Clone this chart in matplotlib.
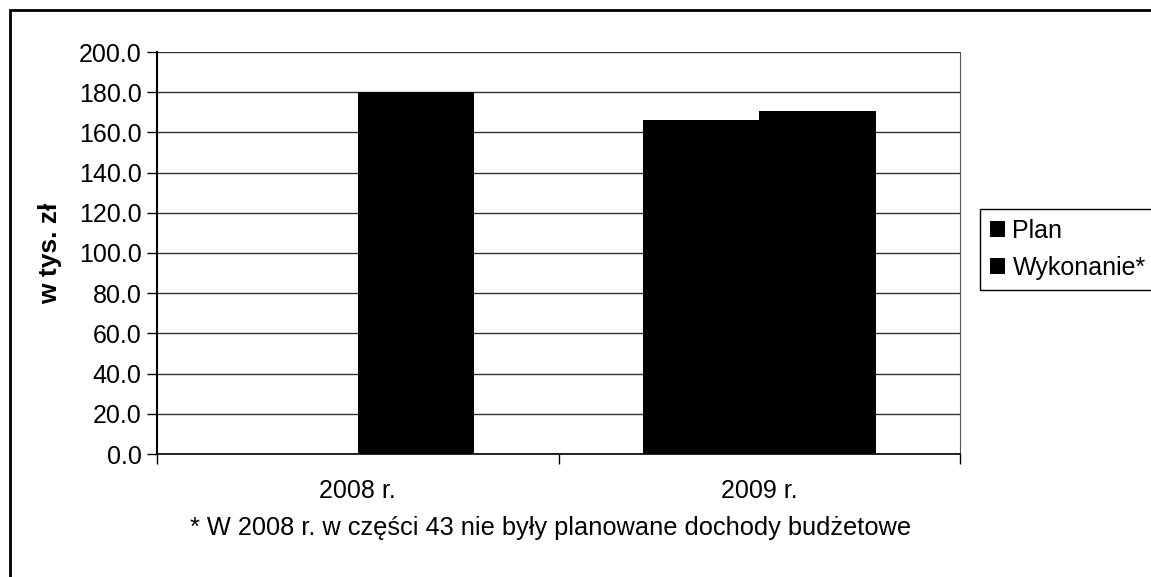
import numpy as np
import matplotlib.pyplot as plt
from matplotlib.patches import Rectangle
from matplotlib.ticker import FormatStrFormatter

plt.rcParams['font.family'] = ['Liberation Sans', 'DejaVu Sans']

# data (w tys. zl)
years = ['2008 r.', '2009 r.']
plan = [0.0, 166.3]
wykonanie = [180.0, 170.7]
series_names = ['Plan', 'Wykonanie*']
yticks = np.arange(0, 201, 20)

fig = plt.figure(figsize=(11.51, 5.77), dpi=100)
ax = fig.add_axes([157 / 1151, 1 - 454 / 577, (960 - 157) / 1151, (454 - 52) / 577])

x = np.arange(len(years))
w = 0.29
ax.bar(x - w / 2, plan, width=w, color='black', label=series_names[0], zorder=3)
ax.bar(x + w / 2, wykonanie, width=w, color='black', label=series_names[1], zorder=3)

ax.set_xlim(-0.5, 1.5)
ax.set_ylim(0, 200)
ax.set_yticks(yticks)
ax.yaxis.set_major_formatter(FormatStrFormatter('%.1f'))
ax.grid(axis='y', color='#333333', linewidth=1, zorder=0)

# category boundary ticks, labels in the middle
ax.set_xticks([-0.5, 0.5, 1.5])
ax.set_xticklabels(['', '', ''])
ax.set_xticks(x, minor=True)
ax.set_xticklabels(years, minor=True)
ax.tick_params(axis='x', which='minor', length=0, pad=18, labelsize=18)
ax.tick_params(axis='x', which='major', length=7, width=1)
ax.tick_params(axis='y', length=7, width=1, labelsize=18, pad=4)

ax.spines['top'].set_visible(False)
ax.spines['right'].set_color('#555555')
ax.spines['left'].set_linewidth(1.5)
ax.spines['bottom'].set_linewidth(1.2)

ax.set_ylabel('w tys. zł', fontsize=19, fontweight='bold', labelpad=12)

leg = fig.legend(loc='upper left',
                 bbox_to_anchor=(980 / 1151, 1 - 293 / 577, 0.16, 84 / 577),
                 mode='expand', fontsize=18, handlelength=0.6, handleheight=0.6,
                 handletextpad=0.3, borderpad=0.4, labelspacing=0.5,
                 fancybox=False, framealpha=1, edgecolor='black', borderaxespad=0)
leg.get_frame().set_linewidth(1)

fig.text(0.478, 1 - 528 / 577, '* W 2008 r. w części 43 nie były planowane dochody budżetowe',
         ha='center', va='center', fontsize=18.3)

# outer frame of the scanned chart
fig.patches.append(Rectangle((10 / 1151, -0.1), 1.2, 1 - 10 / 577 + 0.1,
                             transform=fig.transFigure, fill=False,
                             edgecolor='black', linewidth=2))

fig.savefig('out.png', dpi=100)
